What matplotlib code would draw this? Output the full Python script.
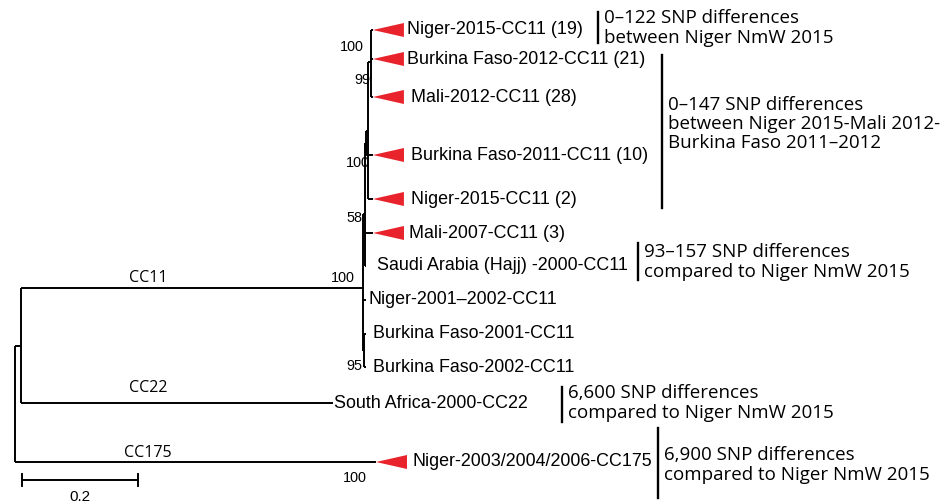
import matplotlib
matplotlib.use("Agg")
import matplotlib.pyplot as plt
from matplotlib.patches import Polygon

# ---------------- data ----------------
# tips from top to bottom
tips = ["Niger-2015-CC11 (19)", "Burkina Faso-2012-CC11 (21)", "Mali-2012-CC11 (28)",
        "Burkina Faso-2011-CC11 (10)", "Niger-2015-CC11 (2)", "Mali-2007-CC11 (3)",
        "Saudi Arabia (Hajj) -2000-CC11", "Niger-2001\u20132002-CC11",
        "Burkina Faso-2001-CC11", "Burkina Faso-2002-CC11",
        "South Africa-2000-CC22", "Niger-2003/2004/2006-CC175"]
collapsed = [True, True, True, True, True, True, False, False, False, False, False, True]
tip_rows = [30, 59, 97, 155, 199, 233, 266, 300, 334, 367, 403, 462]

# tree: leaf = (tip index, branch length), node = (name, branch length, children)
tree = ("root", 0.0, [
    ("inner", 0.0103, [
        ("cc11", 0.5897, [
            ("n58", 0.0034, [
                ("n100b", 0.0017, [
                    ("n99", 0.0034, [
                        ("ntop", 0.0052, [(0, 0.0034), (1, 0.0034), (2, 0.0034)]),
                        (4, 0.0086)]),
                    (3, 0.0121)]),
                (5, 0.0138),
                (6, 0.0017)]),
            (7, 0.0052),
            ("n95", 0.0017, [(8, 0.0034), (9, 0.0034)])]),
        (10, 0.5379)]),
    (11, 0.6224)])

# support values
support = {"ntop": "100", "n99": "99", "n100b": "100", "n58": "58",
           "cc11": "100", "n95": "95", 11: "100"}

# clonal complex names on the long branches
branch_names = {"cc11": "CC11", 10: "CC22", 11: "CC175"}

# SNP notes: text, bar top, bar bottom
notes = ["0\u2013122 SNP differences\nbetween Niger NmW 2015",
         "0\u2013147 SNP differences\nbetween Niger 2015-Mali 2012-\nBurkina Faso 2011\u20132012",
         "93\u2013157 SNP differences\ncompared to Niger NmW 2015",
         "6,600 SNP differences\ncompared to Niger NmW 2015",
         "6,900 SNP differences\ncompared to Niger NmW 2015"]
note_top = [12, 55, 243, 387, 428]
note_bottom = [43, 208, 280, 422, 498]

scale_len = 0.2

# ---------------- style ----------------
PX = 1 / 580.0          # one pixel in tree units
W, H = 946, 504
red = "#e8232b"
lw = 1.4
tip_font = ["Liberation Sans", "DejaVu Sans"]
note_font = ["Open Sans", "DejaVu Sans"]
label_pad = [34, 34, 38, 38, 38, 36, 11, 2, 7, 7, 1, 37]
support_off = {"ntop": (-7, -15), "n99": (2, -50), "n100b": (4, 20), "n58": (-3, 4),
               "cc11": (-8, -10), "n95": (-2, 16), 11: (-9, 16)}
branch_dy = {"cc11": -10, 10: -15, 11: -9}
note_x = [598, 662, 638, 562, 658]
note_text_y = [28, 124, 262, 403, 465]

fig = plt.figure(figsize=(W / 100, H / 100), dpi=100)
ax = fig.add_axes([0, 0, 1, 1])
ax.set_xlim(-15 * PX, (W - 15) * PX)
ax.set_ylim(H, 0)
ax.axis("off")

pos = {}


def draw(node, x0):
    if isinstance(node[0], int):
        idx, bl = node
        x, y = x0 + bl, tip_rows[idx]
        ax.plot([x0, x], [y, y], color="black", lw=lw, solid_capstyle="butt")
        pos[idx] = (x, y)
        return y
    name, bl, kids = node
    x = x0 + bl
    ys = [draw(k, x) for k in kids]
    y = sum(ys) / len(ys)
    ax.plot([x, x], [min(ys), max(ys)], color="black", lw=lw, solid_capstyle="butt")
    if name != "root":
        ax.plot([x0, x], [y, y], color="black", lw=lw, solid_capstyle="butt")
    pos[name] = (x, y)
    return y


draw(tree, 0.0)

# collapsed clades and tip names
for i, name in enumerate(tips):
    x, y = pos[i]
    if collapsed[i]:
        tri = Polygon([(x, y), (x + 31 * PX, y - 7), (x + 31 * PX, y + 7)],
                      closed=True, color=red, lw=0)
        ax.add_patch(tri)
    ax.text(x + label_pad[i] * PX, y, name, ha="left", va="center",
            fontsize=12.9, family=tip_font)

# support values
for key, txt in support.items():
    x, y = pos[key]
    dx, dy = support_off[key]
    ax.text(x + dx * PX, y + dy, txt, ha="right", va="center", fontsize=10.4,
            family=tip_font)

# CC names
for key, txt in branch_names.items():
    y = pos[key][1]
    ax.text(133 * PX, y + branch_dy[key], txt, ha="center", va="center",
            fontsize=11.5, family=note_font)

# SNP notes
for i, txt in enumerate(notes):
    x = note_x[i] * 1.0
    ax.plot([(x - 15) * PX] * 2, [note_top[i], note_bottom[i]], color="black", lw=1.7)
    ax.text((x - 15 + 6) * PX, note_text_y[i], txt, ha="left", va="center",
            fontsize=13.5, family=note_font, linespacing=1.1)

# scale bar
sx0 = 7 * PX
ax.plot([sx0, sx0 + scale_len], [480, 480], color="black", lw=lw)
for sx in (sx0, sx0 + scale_len):
    ax.plot([sx, sx], [474, 486], color="black", lw=lw)
ax.text(sx0 + scale_len / 2, 497, str(scale_len), ha="center", va="center",
        fontsize=11, family=tip_font)

fig.savefig("out.png", dpi=100)
